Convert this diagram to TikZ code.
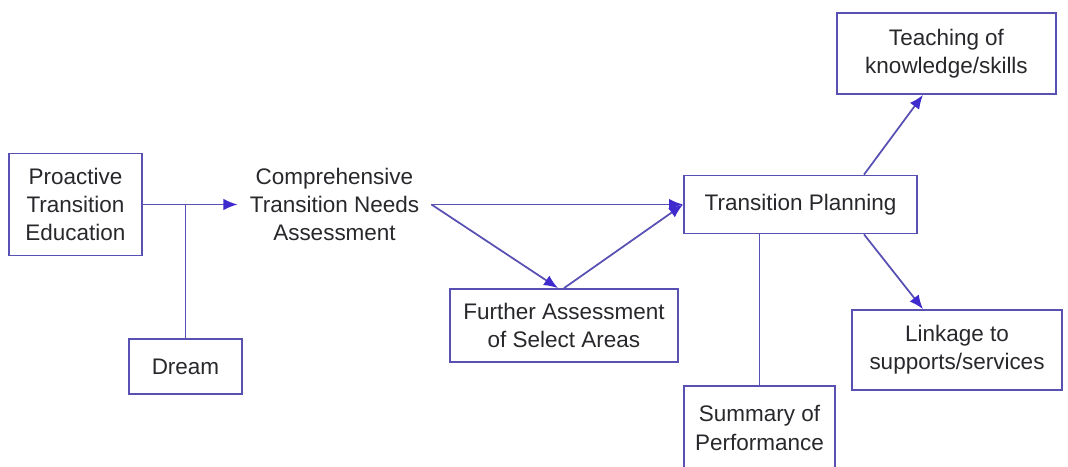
\documentclass[tikz,border=0pt]{standalone}
\usepackage{fontspec}
\setmainfont{Liberation Sans}
\usetikzlibrary{arrows.meta}
\definecolor{linecol}{RGB}{88,80,178}
\definecolor{tipcol}{RGB}{62,42,205}
\definecolor{textcol}{RGB}{40,40,44}

\begin{document}
\begin{tikzpicture}[>={Latex[length=8pt,width=6.5pt,color=tipcol]},
    every node/.style={font=\fontsize{12.8}{16}\selectfont,text=textcol,align=center},
    box/.style={draw=linecol,line width=1pt,inner sep=0pt},
    link/.style={draw=linecol,line width=1pt}]
                \useasboundingbox (0,0) rectangle (21.36,9.32);
                % boxes and labels
                \node[box,minimum width=2.66cm,minimum height=2.04cm] (proactive) at (1.51,5.23) {Proactive\\Transition\\Education};
                \node[box,minimum width=2.26cm,minimum height=1.10cm] (dream) at (3.71,1.99) {Dream};
                \node[inner sep=0.24cm] (needs) at (6.69,5.23) {Comprehensive\\Transition Needs\\Assessment};
                \node[box,minimum width=4.56cm,minimum height=1.46cm] (further) at (11.28,2.81) {Further Assessment\\of Select Areas};
                \node[box,minimum width=4.66cm,minimum height=1.16cm] (planning) at (16.01,5.23) {Transition Planning};
                \node[box,minimum width=3.02cm,minimum height=1.68cm] (summary) at (15.19,0.76) {Summary of\\Performance};
                \node[box,minimum width=4.38cm,minimum height=1.62cm] (teaching) at (18.93,8.25) {Teaching of\\knowledge/skills};
                \node[box,minimum width=4.20cm,minimum height=1.60cm] (linkage) at (19.14,2.32) {Linkage to\\supports/services};
                % connectors
                \coordinate (join) at (dream.north |- proactive.east);
                \draw[link,->] (proactive.east) -- (needs.west);
                \draw[link] (join) -- (dream.north);
                \draw[link,->] (needs.east) -- (planning.west);
                \draw[link,->] (needs.east) -- ([xshift=-0.12cm]further.north);
                \draw[link,->] (further.north) -- (planning.west);
                \draw[link] (summary.north) -- (summary.north |- planning.south);
                \draw[link,->] ([xshift=1.27cm]planning.north) -- ([xshift=-0.47cm]teaching.south);
                \draw[link,->] ([xshift=1.27cm]planning.south) -- ([xshift=-0.68cm]linkage.north);
            \end{tikzpicture}
\end{document}
